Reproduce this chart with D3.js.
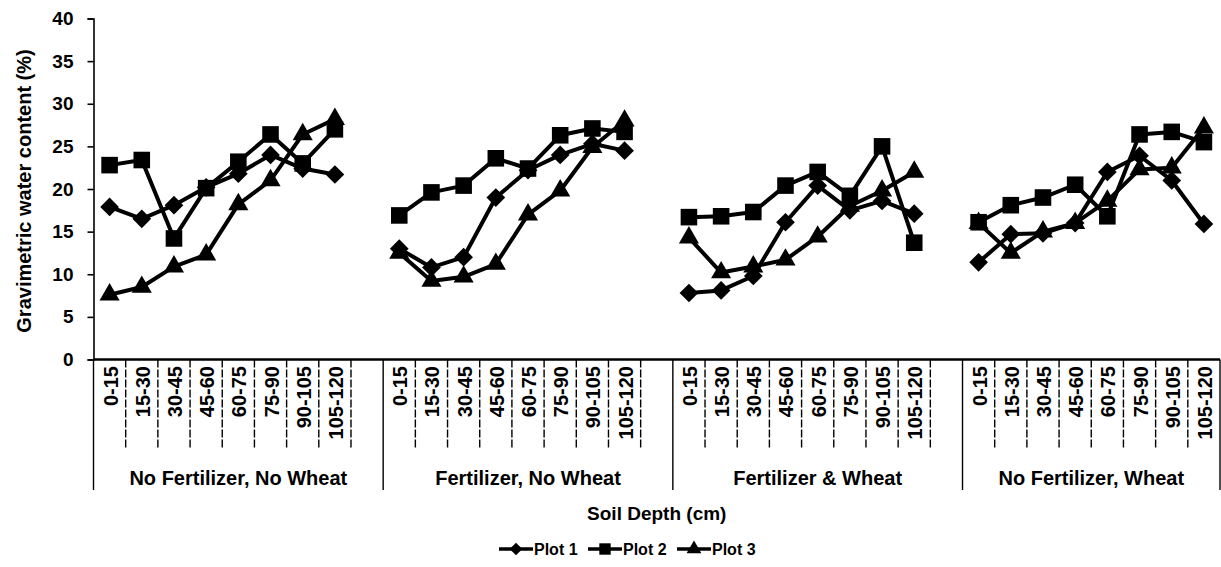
<!DOCTYPE html>
<html>
<head>
<meta charset="utf-8">
<script src="https://cdn.jsdelivr.net/npm/d3@7"></script>
<style>
  html, body { margin: 0; padding: 0; background: #fff; }
  svg { display: block; }
  text { font-family: "Liberation Sans", Arial, sans-serif; fill: #000; }
</style>
</head>
<body>
<svg id="chart" width="1221" height="567"></svg>
<script>
// Treatments (outer category level) and soil depth intervals (inner level)
const groups = ["No Fertilizer, No Wheat", "Fertilizer, No Wheat", "Fertilizer & Wheat", "No Fertilizer, Wheat"];
const depths = ["0-15", "15-30", "30-45", "45-60", "60-75", "75-90", "90-105", "105-120"];
const yTicks = [0, 5, 10, 15, 20, 25, 30, 35, 40];

// Gravimetric water content (%) per treatment, one row per treatment
const plot1 = [
  [17.9, 16.5, 18.1, 20.2, 21.8, 24.0, 22.4, 21.7],
  [13.0, 10.8, 12.0, 19.0, 22.2, 24.0, 25.3, 24.5],
  [7.8, 8.1, 9.8, 16.1, 20.4, 17.5, 18.6, 17.1],
  [11.4, 14.7, 14.8, 16.0, 22.0, 23.9, 21.0, 15.9]
];
const plot2 = [
  [22.8, 23.4, 14.2, 20.1, 23.2, 26.4, 23.0, 27.0],
  [16.9, 19.6, 20.4, 23.6, 22.4, 26.3, 27.1, 26.7],
  [16.7, 16.8, 17.3, 20.4, 22.0, 19.2, 25.0, 13.7],
  [16.1, 18.1, 19.0, 20.5, 16.8, 26.4, 26.7, 25.5]
];
const plot3 = [
  [7.6, 8.5, 10.9, 12.3, 18.2, 21.0, 26.4, 28.2],
  [12.5, 9.2, 9.7, 11.2, 17.0, 19.8, 24.9, 28.0],
  [14.3, 10.2, 10.9, 11.7, 14.4, 18.0, 19.8, 22.0],
  [16.0, 12.5, 15.0, 16.0, 18.6, 22.3, 22.5, 27.2]
];
const seriesNames = ["Plot 1", "Plot 2", "Plot 3"];
const seriesValues = [plot1, plot2, plot3];

// Square-on-corner diamond marker
const symbolRhombus = {
  draw(ctx, size) {
    const r = Math.sqrt(size / 2);
    ctx.moveTo(0, -r);
    ctx.lineTo(r, 0);
    ctx.lineTo(0, r);
    ctx.lineTo(-r, 0);
    ctx.closePath();
  }
};
const seriesSymbols = [symbolRhombus, d3.symbolSquare, d3.symbolTriangle];
const symbolSize = [175, 275, 175];
const legendSymbolSize = [80, 130, 95];

const svg = d3.select("#chart");

// Category keys: each treatment's depths, followed by an empty slot between treatments
const keys = [];
groups.forEach((g, gi) => {
  depths.forEach(d => keys.push(gi + "|" + d));
  if (gi < groups.length - 1) keys.push(gi + "|gap");
});

const x = d3.scaleBand().domain(keys).range([93.5, 1220]).padding(0);
const y = d3.scaleLinear().domain([0, 40]).range([359.5, 18.5]);

const axisY0 = y(0);

// Y axis
const yAxis = svg.append("g")
  .attr("transform", `translate(${x.range()[0]},0)`)
  .call(d3.axisLeft(y).tickValues(yTicks).tickSize(6).tickPadding(14).tickFormat(d3.format("d")));
yAxis.select(".domain").attr("stroke", "#000").attr("stroke-width", 1.6);
yAxis.selectAll(".tick line").attr("stroke", "#000").attr("stroke-width", 1.6);
yAxis.selectAll(".tick text")
  .attr("font-size", 19).attr("font-weight", "bold")
  .attr("font-family", "'Liberation Sans', Arial, sans-serif");

// Y axis title
svg.append("text")
  .attr("transform", `translate(24,${(y(40) + y(0)) / 2 + 2}) rotate(-90)`)
  .attr("text-anchor", "middle")
  .attr("dominant-baseline", "central")
  .attr("font-size", 20).attr("font-weight", "bold")
  .text("Gravimetric water content (%)");

// X axis line
svg.append("line")
  .attr("x1", x.range()[0]).attr("x2", x.range()[1])
  .attr("y1", axisY0).attr("y2", axisY0)
  .attr("stroke", "#000").attr("stroke-width", 2.4);

// Category and treatment dividers below the axis
const groupStarts = new Set(groups.map((g, gi) => gi + "|" + depths[0]));
const dividers = keys.map(k => ({ pos: x(k), long: groupStarts.has(k) }));
dividers.push({ pos: x.range()[1], long: true });
svg.append("g").selectAll("line").data(dividers).join("line")
  .attr("x1", d => d.pos).attr("x2", d => d.pos)
  .attr("y1", axisY0).attr("y2", d => d.long ? 490 : 448)
  .attr("stroke", "#000").attr("stroke-width", 1.4)
  .attr("stroke-dasharray", d => d.long ? null : "8,2");

// Depth labels, rotated
const depthKeys = keys.filter(k => !k.endsWith("|gap"));
svg.append("g").selectAll("text").data(depthKeys).join("text")
  .attr("transform", k => `translate(${x(k) + x.bandwidth() / 2 + 1},366) rotate(-90)`)
  .attr("text-anchor", "end")
  .attr("dominant-baseline", "central")
  .attr("font-size", 20).attr("font-weight", "bold")
  .text(k => k.split("|")[1]);

// Treatment labels
svg.append("g").selectAll("text").data(groups).join("text")
  .attr("x", (g, gi) => {
    const start = x(gi + "|" + depths[0]);
    const end = gi < groups.length - 1 ? x((gi + 1) + "|" + depths[0]) : x.range()[1];
    return (start + end) / 2;
  })
  .attr("y", 478)
  .attr("text-anchor", "middle")
  .attr("dominant-baseline", "central")
  .attr("font-size", 20).attr("font-weight", "bold")
  .text(g => g);

// X axis title
svg.append("text")
  .attr("x", (x.range()[0] + x.range()[1]) / 2)
  .attr("y", 513)
  .attr("text-anchor", "middle")
  .attr("dominant-baseline", "central")
  .attr("font-size", 19).attr("font-weight", "bold")
  .text("Soil Depth (cm)");

// Series lines and markers, one segment per treatment
const line = d3.line()
  .x(d => x(d.key) + x.bandwidth() / 2)
  .y(d => y(d.v));

seriesValues.forEach((rows, si) => {
  const g = svg.append("g");
  rows.forEach((vals, gi) => {
    const pts = vals.map((v, di) => ({ key: gi + "|" + depths[di], v }));
    g.append("path")
      .attr("d", line(pts))
      .attr("fill", "none")
      .attr("stroke", "#000")
      .attr("stroke-width", 4)
      .attr("stroke-linejoin", "round");
    g.selectAll(null).data(pts).join("path")
      .attr("transform", d => `translate(${x(d.key) + x.bandwidth() / 2},${y(d.v)})`)
      .attr("d", d3.symbol().type(seriesSymbols[si]).size(symbolSize[si]))
      .attr("fill", "#000");
  });
});

// Legend
const legend = svg.append("g").attr("transform", "translate(499,549)");
const entryW = 89;
seriesNames.forEach((name, i) => {
  const e = legend.append("g").attr("transform", `translate(${i * entryW},0)`);
  e.append("line").attr("x1", 0).attr("x2", 34).attr("y1", 0).attr("y2", 0)
    .attr("stroke", "#000").attr("stroke-width", 3.5);
  e.append("path").attr("transform", "translate(17,0)")
    .attr("d", d3.symbol().type(seriesSymbols[i]).size(legendSymbolSize[i])).attr("fill", "#000");
  e.append("text").attr("x", 35).attr("y", 0)
    .attr("dominant-baseline", "central")
    .attr("font-size", 16).attr("font-weight", "bold")
    .text(name);
});
</script>
</body>
</html>
